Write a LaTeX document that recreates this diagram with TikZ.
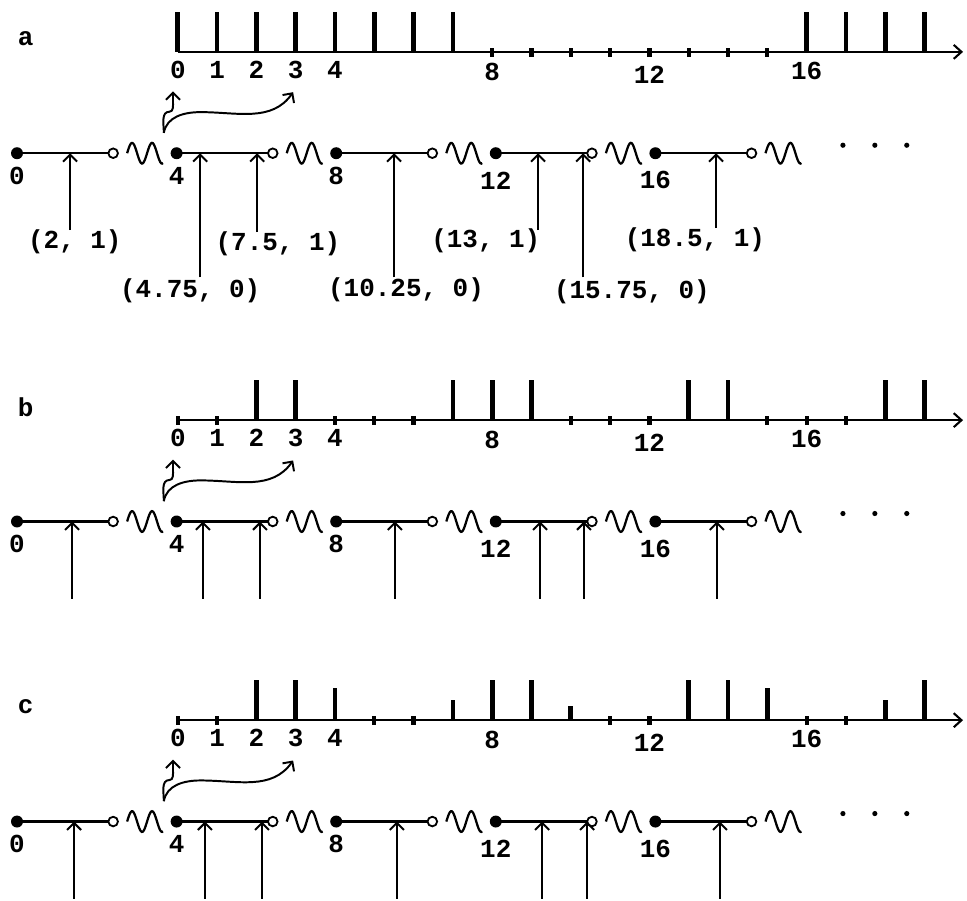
\documentclass[tikz,border=0pt]{standalone}
\usepackage{fontspec}
\setmonofont{Liberation Mono}
\usetikzlibrary{calc, positioning, arrows.meta}

\tikzset{
	lbl/.style={font=\fontsize{18.5pt}{20pt}\selectfont\ttfamily\bfseries, inner sep=1pt},
	axisline/.style={line width=1.5pt, arrows={-Straight Barb[length=5.5pt,width=10pt]}},
	bar/.style={line width=3.3pt},
	smalltick/.style={line width=3pt},
	chain/.style={line width=1.6pt},
	opendot/.style={line width=1.3pt, fill=white},
	up/.style={line width=1.4pt, arrows={-Straight Barb[length=5pt,width=10pt]}},
}

\begin{document}
\begin{tikzpicture}
	\useasboundingbox (-0.426,0) rectangle (23.81,-22.56);
	
	% what the three panels share
	\foreach \p/\py in {a/-1.30, b/-10.53, c/-18.05} {
	\begin{scope}[yshift=\py cm]
		\node[lbl] (lab\p) at (0.22,0.33) {\p};
		\coordinate (\p ax0) at (4.03,0);
		\coordinate (\p ax1) at (23.71,0);
		\draw[axisline] (\p ax0) -- (\p ax1);
		\foreach \k/\dy in {0/0.45,1/0.45,2/0.45,3/0.45,4/0.45,8/0.5,12/0.57,16/0.47}
			\node[lbl] (\p k\k) at (4.03+0.985*\k,-\dy) {\k};
		
		\foreach \n/\dy in {0/0.57,4/0.57,8/0.57,12/0.68,16/0.68} {
			\coordinate (\p d\n) at (\n,-2.54);
			\coordinate (\p o\n) at (\n+2.41,-2.54);
			\draw[chain] (\p d\n) -- (\p o\n);
			\fill (\p d\n) circle (0.15);
			\draw[opendot] (\p o\n) circle (0.12);
			\draw[chain] plot[domain=0:0.9,samples=40] ({\n+2.76+\x},{-2.54+0.26*sin(720*\x)});
			\node[lbl] (\p n\n) at (\n,-2.54-\dy) {\n};
		}
		\foreach \dx in {20.7,21.5,22.3}
			\fill (\dx,-2.34) circle (0.065);
		
		\coordinate (\p s) at (3.68,-2.03);
		\coordinate (\p t0) at (3.91,-0.99);
		\coordinate (\p t3) at (6.92,-1.01);
		\draw[up] (\p s) to[out=90,in=180] (3.82,-1.5) to[out=0,in=-90] (3.91,-1.25) -- (\p t0);
		\draw[up] (\p s) to[out=80,in=180] (4.6,-1.51) to[out=0,in=235] (\p t3);
	\end{scope}}
	
	% panel a
	\begin{scope}[yshift=-1.30cm]
		\foreach \k in {0,...,7,16,17,18,19}
			\draw[bar] (4.03+0.985*\k,0) -- ++(0,1);
		\foreach \k in {8,...,15}
			\draw[smalltick] (4.03+0.985*\k,-0.12) -- ++(0,0.22);
		\foreach \i/\ax/\len/\lx/\ly/\txt in {1/1.33/1.93/1.45/2.21/{(2, 1)}, 2/4.59/3.11/4.34/3.46/{(4.75, 0)}, 3/6.02/1.98/6.54/2.26/{(7.5, 1)}, 4/9.45/3.11/9.75/3.42/{(10.25, 0)}, 5/13.06/1.93/11.75/2.19/{(13, 1)}, 6/14.19/3.11/15.41/3.47/{(15.75, 0)}, 7/17.52/1.88/16.99/2.18/{(18.5, 1)}} {
			\coordinate (atip\i) at (\ax,-2.54);
			\coordinate (afoot\i) at (\ax,-2.54-\len);
			\draw[up] (afoot\i) -- (atip\i);
			\node[lbl] (val\i) at (\lx,-2.54-\ly) {\txt};
		}
	\end{scope}
	
	% panel b
	\begin{scope}[yshift=-10.53cm]
		\foreach \k in {2,3,7,8,9,13,14,18,19}
			\draw[bar] (4.03+0.985*\k,0) -- ++(0,1);
		\foreach \k in {0,1,4,5,6,10,11,12,15,16,17}
			\draw[smalltick] (4.03+0.985*\k,-0.12) -- ++(0,0.22);
		\foreach \i/\ax in {1/1.38,2/4.66,3/6.09,4/9.47,5/13.11,6/14.21,7/17.54} {
			\coordinate (btip\i) at (\ax,-2.54);
			\coordinate (bfoot\i) at (\ax,-4.47);
			\draw[up] (bfoot\i) -- (btip\i);
		}
	\end{scope}
	
	% panel c
	\begin{scope}[yshift=-18.05cm]
		\foreach \k/\h in {2/1,3/1,4/0.8,7/0.5,8/1,9/1,10/0.35,13/1,14/1,15/0.8,18/0.5,19/1}
			\draw[bar] (4.03+0.985*\k,0) -- ++(0,\h);
		\foreach \k in {0,1,5,6,11,12,16,17}
			\draw[smalltick] (4.03+0.985*\k,-0.12) -- ++(0,0.22);
		\foreach \i/\ax in {1/1.43,2/4.71,3/6.14,4/9.52,5/13.16,6/14.29,7/17.62} {
			\coordinate (ctip\i) at (\ax,-2.54);
			\coordinate (cfoot\i) at (\ax,-4.47);
			\draw[up] (cfoot\i) -- (ctip\i);
		}
	\end{scope}
\end{tikzpicture}
\end{document}
